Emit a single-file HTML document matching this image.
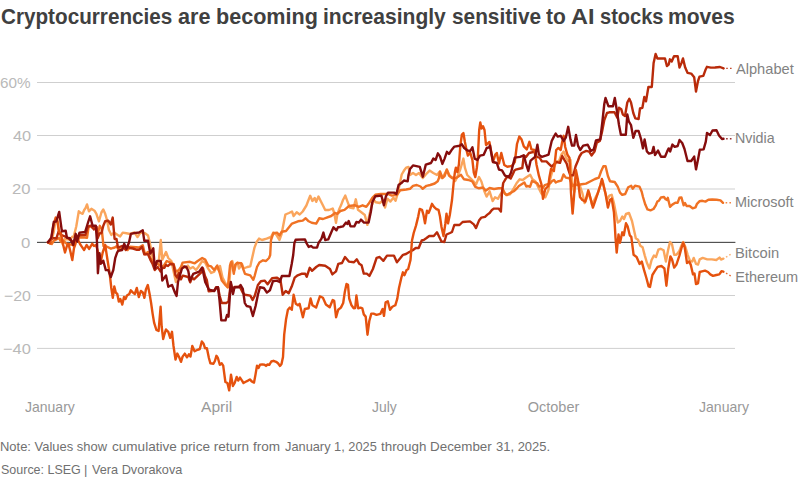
<!DOCTYPE html>
<html><head><meta charset="utf-8"><style>
html,body{margin:0;padding:0;background:#fff;}
body{width:798px;height:479px;position:relative;overflow:hidden;font-family:"Liberation Sans",sans-serif;}
.t{position:absolute;white-space:nowrap;line-height:1;transform-origin:0 0;}
svg{position:absolute;left:0;top:0;}
</style></head><body>
<svg width="798" height="479" viewBox="0 0 798 479">
<line x1="37" x2="735" y1="82.5" y2="82.5" stroke="#cfcfcf" stroke-width="1"/>
<line x1="37" x2="735" y1="135.5" y2="135.5" stroke="#cfcfcf" stroke-width="1"/>
<line x1="37" x2="735" y1="189.0" y2="189.0" stroke="#cfcfcf" stroke-width="1"/>
<line x1="37" x2="735" y1="295.5" y2="295.5" stroke="#cfcfcf" stroke-width="1"/>
<line x1="37" x2="735" y1="348.4" y2="348.4" stroke="#cfcfcf" stroke-width="1"/>
<line x1="37" x2="735.4" y1="242.35" y2="242.35" stroke="#333" stroke-width="1"/>
<path d="M48.0,242.2 L50.0,241.0 L52.0,239.0 L53.7,232.0 L55.5,220.5 L57.3,218.5 L59.0,231.0 L61.0,237.0 L62.8,244.5 L64.7,239.0 L66.5,239.3 L68.4,239.3 L70.2,240.0 L72.0,237.0 L73.8,236.4 L76.3,226.3 L78.8,211.3 L80.7,213.0 L82.6,213.8 L84.2,210.0 L85.6,208.0 L87.0,204.4 L88.9,211.3 L91.4,208.8 L94.5,210.7 L96.4,213.8 L98.9,221.3 L101.4,212.5 L103.3,209.4 L105.2,213.8 L107.0,220.0 L108.9,230.0 L111.4,235.0 L114.0,232.5 L117.7,235.0 L120.2,236.4 L122.7,232.6 L126.5,233.3 L130.0,234.0 L134.5,232.5 L137.5,237.0 L140.5,232.5 L145.0,233.3 L148.0,235.5 L149.5,241.5 L151.0,249.0 L153.3,261.0 L155.6,264.8 L158.6,263.3 L160.8,240.0 L162.3,259.6 L166.0,252.0 L168.3,258.0 L171.4,261.0 L173.6,271.6 L175.9,282.0 L178.0,273.0 L180.4,268.6 L182.6,265.6 L185.6,267.8 L187.9,265.6 L190.0,268.6 L193.0,267.0 L196.0,270.0 L198.3,267.0 L202.2,261.0 L205.2,262.6 L208.2,268.6 L211.2,273.0 L214.2,271.6 L216.5,267.0 L218.0,269.3 L220.0,266.0 L222.5,277.6 L224.8,282.0 L227.8,287.3 L229.3,283.6 L230.8,262.5 L232.3,261.0 L234.5,270.0 L236.0,264.0 L237.5,262.5 L239.0,268.5 L242.0,264.0 L243.6,268.5 L247.3,267.0 L250.3,266.3 L251.8,259.5 L254.5,247.6 L256.8,241.6 L259.0,238.6 L262.0,240.0 L266.6,238.6 L271.0,237.0 L273.3,232.6 L276.4,234.8 L279.4,240.0 L281.6,234.0 L283.9,222.0 L285.4,214.5 L289.0,213.0 L292.0,211.5 L293.6,216.0 L296.7,212.3 L299.7,214.5 L302.7,211.5 L306.4,205.5 L308.7,199.5 L310.2,195.8 L312.4,201.0 L314.7,198.0 L316.2,201.8 L318.5,196.5 L320.7,201.0 L323.0,205.5 L325.2,210.0 L329.0,210.0 L332.7,208.5 L334.2,213.0 L336.0,222.8 L337.3,214.5 L339.5,208.5 L341.0,205.3 L343.0,200.0 L345.3,195.6 L347.5,201.6 L349.8,207.6 L353.5,208.3 L355.8,199.3 L358.0,209.8 L361.0,212.0 L364.8,215.0 L367.4,224.9 L369.3,215.0 L371.6,206.0 L373.8,200.0 L376.0,202.3 L379.8,203.0 L383.6,200.0 L385.0,207.6 L387.4,198.6 L390.4,201.6 L393.4,197.8 L395.6,200.8 L397.9,192.6 L400.2,182.0 L401.7,174.5 L404.0,170.6 L406.3,167.6 L408.5,166.9 L410.0,175.0 L413.0,173.0 L416.0,175.0 L419.0,173.0 L422.8,178.0 L425.8,174.4 L429.6,170.6 L433.3,173.0 L437.0,175.0 L439.4,172.0 L441.6,178.0 L443.9,175.0 L446.9,170.0 L449.9,176.0 L452.9,178.0 L455.2,181.0 L457.4,176.7 L460.4,169.0 L463.4,158.6 L464.9,167.6 L467.2,175.0 L470.2,178.0 L473.2,181.0 L476.0,184.5 L479.0,177.0 L481.4,181.5 L484.4,191.3 L486.6,196.6 L489.6,191.3 L492.6,201.0 L495.0,197.3 L497.9,198.8 L500.0,195.0 L503.2,190.6 L506.2,195.0 L510.0,194.3 L513.7,188.3 L516.7,183.0 L519.7,179.3 L522.7,180.0 L525.7,177.8 L530.2,174.8 L532.5,179.3 L535.5,181.5 L538.5,187.6 L541.5,193.6 L545.3,197.3 L548.3,190.6 L550.0,180.0 L552.4,171.0 L556.2,162.0 L559.2,160.6 L561.4,154.6 L563.7,151.6 L566.0,157.6 L568.2,161.0 L570.5,160.0 L572.5,186.0 L574.3,192.0 L576.3,180.5 L577.8,181.0 L580.0,186.0 L582.3,193.0 L584.6,203.0 L586.8,198.0 L589.0,192.6 L592.0,204.6 L595.0,198.6 L598.0,192.6 L601.0,183.6 L602.6,180.6 L604.9,191.0 L607.0,200.0 L609.4,195.6 L611.7,194.8 L613.9,203.0 L616.2,215.0 L617.8,222.5 L620.0,221.0 L622.3,216.5 L624.0,219.0 L626.0,214.0 L629.0,213.0 L632.0,221.0 L634.3,231.5 L635.8,238.3 L638.0,239.8 L640.3,245.8 L642.6,247.3 L644.8,255.6 L647.0,263.0 L649.4,268.4 L651.6,260.0 L653.9,255.6 L656.0,257.0 L658.4,249.6 L660.6,248.8 L663.6,250.3 L665.9,261.6 L668.2,249.6 L670.0,242.0 L672.0,244.3 L674.2,254.8 L676.4,254.8 L679.4,251.0 L681.7,245.0 L683.2,242.0 L685.5,247.3 L687.7,254.8 L690.0,260.9 L692.2,261.6 L693.7,257.9 L696.0,263.9 L698.0,264.6 L699.7,259.4 L702.7,257.9 L707.3,259.4 L711.8,259.4 L716.3,260.0 L719.5,257.6 L721.0,259.5 L723.4,258.7" fill="none" stroke="#FAA55C" stroke-width="2.4" stroke-linejoin="round" stroke-linecap="round"/>
<path d="M48.0,242.2 L51.7,244.0 L53.6,241.0 L59.0,238.0 L61.0,242.0 L62.8,240.5 L66.5,243.7 L72.0,244.8 L74.0,246.0 L75.8,239.0 L77.7,240.7 L79.5,237.3 L85.0,237.5 L87.0,237.8 L88.7,226.3 L90.6,226.0 L92.4,227.6 L96.0,229.0 L97.8,233.7 L99.8,225.8 L101.7,229.0 L103.5,246.0 L105.4,246.0 L111.0,248.7 L112.8,248.0 L114.7,247.5 L116.5,246.2 L118.4,249.5 L124.0,248.0 L125.8,248.5 L127.6,250.0 L130.0,246.8 L139.0,247.5 L142.8,245.3 L145.0,254.3 L148.0,252.0 L150.3,258.0 L152.5,261.0 L154.8,265.6 L157.0,263.4 L161.6,267.0 L164.0,265.5 L166.8,261.0 L170.6,262.6 L173.6,264.0 L175.9,271.6 L178.9,270.0 L181.0,267.0 L182.6,262.6 L190.0,261.8 L194.7,263.3 L197.7,261.0 L202.2,258.0 L205.2,259.6 L208.2,265.6 L211.2,266.4 L214.2,270.0 L217.3,265.5 L219.5,272.3 L221.8,280.6 L224.8,284.3 L227.8,287.3 L230.0,265.5 L231.5,261.8 L233.8,273.8 L235.3,264.8 L237.0,263.0 L241.3,263.3 L243.6,270.0 L245.0,273.8 L250.3,275.3 L253.3,279.8 L254.8,275.3 L257.0,267.0 L259.4,262.5 L263.0,260.3 L266.0,261.0 L269.0,258.0 L270.2,255.0 L271.0,240.0 L273.3,233.3 L277.0,232.6 L279.4,235.6 L281.6,231.8 L286.0,231.0 L289.0,227.3 L292.0,223.6 L298.0,221.3 L302.7,220.6 L305.7,218.3 L308.7,221.3 L311.7,222.8 L316.2,223.6 L319.2,218.3 L323.0,219.0 L326.7,217.6 L331.2,216.0 L335.0,213.0 L337.3,213.8 L340.3,211.0 L344.5,209.8 L349.0,206.0 L355.0,205.3 L358.8,206.8 L362.6,205.3 L366.3,206.8 L368.6,203.8 L372.3,197.8 L375.3,194.8 L380.6,194.0 L388.0,194.0 L391.9,195.6 L397.0,194.8 L400.2,190.3 L406.2,189.5 L410.0,188.8 L413.0,185.8 L416.7,185.0 L420.5,186.5 L422.7,188.8 L426.5,185.8 L430.2,185.0 L434.7,183.5 L437.7,181.3 L439.0,178.0 L440.0,171.4 L442.4,178.0 L444.6,176.0 L446.8,169.5 L449.0,175.5 L452.0,178.0 L456.5,177.8 L461.0,174.8 L464.0,179.3 L468.6,180.0 L472.3,181.5 L475.3,186.8 L479.0,188.3 L482.9,187.5 L485.9,190.6 L489.6,188.0 L494.0,189.0 L498.6,188.3 L502.4,188.3 L504.7,193.6 L507.0,195.0 L509.2,193.6 L513.7,191.3 L516.7,188.5 L518.9,186.0 L524.4,182.5 L526.3,186.5 L528.0,186.0 L530.0,186.8 L532.0,181.0 L537.3,183.3 L539.2,186.5 L541.0,186.0 L542.9,187.9 L544.7,185.2 L550.3,183.3 L552.1,181.0 L554.0,180.0 L555.8,182.5 L557.7,181.5 L561.3,180.6 L563.5,174.5 L565.8,177.6 L569.5,178.3 L572.6,186.0 L574.8,184.3 L577.8,185.0 L581.6,184.3 L586.0,183.6 L590.6,181.3 L595.0,179.0 L598.9,177.6 L601.0,171.5 L603.4,166.3 L605.6,166.3 L607.9,176.0 L610.0,181.3 L614.7,182.0 L617.7,186.6 L620.0,192.6 L622.2,194.8 L625.2,194.0 L628.2,187.3 L631.2,185.8 L632.7,188.8 L635.0,185.8 L639.5,186.6 L641.7,191.8 L643.0,197.0 L645.3,204.6 L647.5,209.4 L650.5,210.3 L653.5,209.0 L655.8,205.3 L657.3,201.6 L658.8,200.8 L661.0,197.4 L664.0,197.0 L665.6,199.3 L667.0,200.0 L667.8,197.8 L670.0,206.8 L672.3,204.6 L675.3,202.8 L677.6,202.8 L679.4,197.8 L681.4,197.4 L683.6,205.3 L685.0,203.0 L686.6,206.0 L689.6,206.0 L692.6,208.3 L695.6,207.3 L697.0,203.8 L699.4,201.3 L702.4,200.8 L705.4,201.6 L708.4,199.8 L712.2,199.5 L716.7,199.8 L720.5,200.4 L723.0,202.8" fill="none" stroke="#F07224" stroke-width="2.4" stroke-linejoin="round" stroke-linecap="round"/>
<path d="M48.0,242.2 L52.8,238.2 L56.5,238.2 L58.4,232.0 L61.5,235.0 L64.7,236.3 L69.0,238.8 L72.0,241.0 L74.0,242.0 L76.6,236.3 L80.3,235.0 L85.4,235.0 L87.9,226.9 L91.0,225.7 L94.0,229.4 L96.6,226.9 L97.5,238.5 L99.5,233.5 L101.5,233.0 L103.3,225.7 L105.2,221.3 L108.3,220.7 L110.8,224.5 L112.7,217.6 L114.6,239.0 L116.5,239.0 L118.0,247.6 L122.0,246.0 L124.0,247.6 L125.8,250.0 L127.7,246.5 L129.5,248.0 L133.0,248.5 L136.9,249.8 L139.0,249.8 L142.0,246.8 L144.3,254.3 L148.0,254.3 L150.3,259.6 L152.6,264.0 L154.8,270.0 L157.8,267.0 L160.5,271.5 L162.5,268.0 L164.3,267.9 L166.0,265.0 L168.0,266.0 L170.0,264.0 L173.5,264.5 L175.4,275.0 L177.2,277.5 L179.0,273.0 L181.0,279.3 L182.8,275.6 L188.3,277.0 L190.2,282.3 L192.0,277.7 L194.0,279.3 L195.8,277.7 L201.3,272.4 L203.0,268.4 L205.0,276.0 L206.8,280.0 L208.7,291.3 L214.2,290.8 L216.0,287.3 L218.0,287.3 L219.7,296.0 L221.8,303.0 L226.3,303.0 L228.5,301.6 L230.8,283.6 L232.7,291.0 L234.5,287.0 L239.8,286.6 L242.8,292.6 L245.0,294.8 L250.3,295.6 L252.6,300.0 L254.8,295.6 L257.9,285.0 L260.9,281.3 L264.6,280.6 L267.6,284.3 L272.1,278.3 L276.7,277.6 L280.4,279.8 L282.7,294.8 L285.7,291.0 L288.7,293.3 L291.7,286.6 L294.7,277.6 L297.7,275.3 L301.5,273.8 L305.2,273.8 L306.7,276.8 L309.7,267.8 L312.0,270.8 L316.2,267.0 L319.2,265.0 L325.2,265.7 L330.0,269.0 L332.3,274.4 L336.0,271.4 L338.3,263.8 L342.0,263.0 L345.0,257.0 L348.8,261.6 L354.0,262.3 L356.8,259.3 L359.3,263.8 L361.6,265.3 L363.8,273.6 L366.8,273.6 L369.4,275.9 L372.9,269.0 L376.6,257.8 L379.6,257.0 L383.4,260.8 L387.0,255.6 L393.9,255.6 L396.9,262.3 L400.0,258.6 L403.0,254.8 L406.0,254.0 L409.7,251.8 L412.7,250.3 L415.7,248.0 L418.7,248.0 L421.7,240.5 L424.0,239.8 L426.2,238.3 L429.2,236.0 L433.8,236.0 L437.0,232.3 L441.3,241.3 L444.3,242.0 L446.5,234.5 L450.0,233.0 L452.0,232.0 L454.3,225.0 L459.5,225.0 L462.6,222.0 L470.0,221.4 L473.8,224.4 L476.0,228.0 L479.0,220.6 L481.4,217.6 L485.0,216.9 L487.4,214.6 L489.6,213.0 L491.9,210.0 L494.0,208.6 L498.6,208.6 L500.9,211.6 L502.0,192.0 L503.2,183.0 L505.4,179.3 L507.7,176.3 L510.7,178.5 L512.9,174.0 L514.4,170.5 L515.6,169.7 L522.3,168.0 L523.8,155.4 L526.0,156.9 L529.0,153.0 L535.0,151.6 L536.6,156.9 L539.6,157.6 L541.9,161.4 L546.4,161.4 L548.6,163.6 L551.7,166.7 L556.2,162.0 L560.0,162.9 L562.2,156.0 L564.4,159.9 L566.7,163.6 L568.0,168.5 L570.3,175.3 L573.3,175.3 L575.6,166.3 L577.8,161.0 L579.5,156.5 L581.7,153.0 L586.2,150.9 L589.2,151.6 L591.5,155.4 L594.5,151.6 L596.8,142.6 L599.8,141.0 L602.0,132.0 L604.3,120.0 L607.0,113.0 L609.3,112.3 L614.5,112.3 L617.3,117.6 L619.0,107.8 L621.3,109.3 L622.8,114.5 L625.0,116.0 L627.3,102.5 L629.3,98.8 L631.0,102.5 L633.3,113.0 L635.3,118.3 L638.6,119.0 L640.0,108.5 L642.4,107.8 L644.3,96.9 L646.0,101.4 L648.4,87.0 L651.8,87.0 L653.6,63.0 L655.6,54.0 L657.4,58.5 L665.0,58.5 L666.9,66.0 L668.7,64.5 L669.9,59.3 L671.7,61.5 L674.0,56.3 L677.7,56.3 L679.5,67.6 L681.5,63.0 L683.0,58.5 L685.2,67.6 L687.5,72.8 L691.2,73.6 L694.2,77.3 L696.0,91.6 L698.0,81.0 L699.5,76.6 L703.3,75.8 L705.5,69.8 L707.0,66.8 L710.8,67.6 L715.0,67.5 L720.0,67.0 L723.6,68.4" fill="none" stroke="#B92B0A" stroke-width="2.4" stroke-linejoin="round" stroke-linecap="round"/>
<path d="M48.0,242.2 L50.0,243.5 L51.5,238.0 L53.5,225.0 L55.7,217.6 L57.5,222.0 L59.0,232.0 L60.7,232.6 L63.2,245.0 L65.0,252.5 L66.9,246.0 L68.5,244.0 L70.5,252.0 L72.3,260.0 L74.0,248.0 L75.5,243.8 L77.0,238.0 L78.5,241.0 L80.0,244.0 L81.6,246.4 L84.1,250.0 L86.6,245.0 L89.1,248.9 L92.2,243.8 L94.0,246.0 L96.0,245.0 L97.5,250.0 L99.0,256.0 L100.5,263.0 L102.7,252.5 L105.2,245.0 L107.7,261.3 L109.8,274.5 L111.3,288.0 L112.8,297.8 L114.3,286.5 L115.8,292.6 L117.3,294.0 L118.8,301.6 L120.3,299.0 L122.3,304.6 L124.0,297.0 L125.5,299.0 L127.0,295.6 L129.3,294.0 L130.8,290.3 L133.0,292.6 L134.8,294.0 L136.8,288.0 L138.8,297.0 L140.9,291.0 L142.8,292.5 L144.4,297.8 L145.9,289.5 L147.8,285.0 L149.6,294.0 L151.1,303.0 L152.6,313.6 L154.1,322.6 L156.4,330.0 L158.6,331.0 L160.6,306.8 L161.7,327.0 L163.2,339.0 L164.5,334.0 L166.0,329.5 L168.3,331.8 L170.2,337.8 L172.0,331.8 L173.5,346.0 L175.5,359.6 L177.3,353.6 L179.2,357.3 L181.0,361.8 L182.6,356.6 L184.8,353.6 L187.0,357.3 L188.9,354.3 L190.5,356.6 L192.3,346.0 L194.6,351.3 L197.6,349.8 L199.8,349.0 L201.8,341.5 L203.6,343.8 L205.1,348.3 L206.9,348.3 L208.9,358.0 L210.4,363.3 L213.4,363.8 L214.9,361.0 L216.4,355.8 L217.9,358.0 L219.8,364.8 L221.7,363.3 L223.2,365.6 L225.4,382.0 L227.4,383.0 L229.2,390.4 L231.0,374.6 L232.9,386.0 L234.7,383.0 L236.7,376.9 L238.2,380.6 L240.0,377.6 L242.0,380.6 L243.5,383.0 L245.7,381.8 L248.0,380.6 L249.9,379.4 L251.7,381.4 L254.0,382.6 L255.5,374.6 L257.0,365.6 L258.5,367.9 L260.0,364.8 L262.3,364.4 L264.5,364.8 L266.0,365.9 L267.5,364.5 L269.3,364.8 L271.3,361.5 L273.5,360.8 L276.1,361.8 L278.0,363.3 L280.0,365.9 L281.5,364.0 L283.0,357.0 L284.2,334.6 L286.0,319.6 L287.9,309.8 L289.8,307.6 L291.8,309.8 L293.6,294.8 L295.8,303.8 L298.0,305.3 L299.6,303.8 L302.9,317.3 L304.8,309.0 L308.6,308.3 L310.6,298.5 L312.4,305.3 L316.1,307.6 L319.9,296.3 L322.9,297.8 L325.9,304.5 L329.7,307.3 L332.7,300.0 L334.2,300.8 L336.1,317.3 L338.2,309.8 L340.9,307.6 L343.2,303.0 L344.8,292.0 L346.5,284.0 L348.0,284.9 L349.2,298.5 L351.5,305.3 L353.7,308.3 L355.2,308.0 L356.4,295.5 L358.2,308.3 L360.5,307.6 L362.3,308.3 L363.8,314.4 L365.7,316.6 L367.5,334.7 L369.3,321.0 L371.3,313.6 L373.5,313.6 L376.5,314.8 L380.3,313.9 L382.6,309.0 L384.0,315.9 L385.6,302.3 L387.8,301.3 L390.0,309.8 L392.3,306.8 L395.3,305.3 L397.3,298.6 L399.0,288.0 L401.4,277.5 L402.9,272.3 L404.4,275.3 L406.6,270.0 L408.2,269.0 L410.5,260.0 L412.0,240.5 L413.7,233.0 L416.0,225.6 L418.2,216.6 L419.7,209.0 L422.0,209.8 L423.5,215.0 L425.0,223.4 L427.0,210.6 L428.7,212.9 L430.2,209.0 L432.0,203.8 L434.0,206.8 L436.2,209.0 L438.5,209.8 L440.0,216.6 L441.5,227.0 L443.5,236.0 L445.3,224.0 L446.5,213.6 L448.0,223.4 L449.8,215.0 L452.0,200.0 L454.0,179.0 L455.0,171.5 L455.9,167.6 L457.4,172.0 L458.9,164.6 L460.4,145.0 L461.9,134.5 L463.4,133.0 L464.9,142.0 L466.4,149.6 L467.9,155.6 L470.2,152.6 L472.4,160.0 L473.8,172.5 L475.3,177.0 L476.8,168.0 L477.7,160.0 L479.2,130.0 L480.3,122.5 L481.5,128.5 L483.0,126.3 L484.5,130.0 L486.0,145.0 L487.5,143.6 L489.4,142.0 L491.5,153.0 L493.0,162.0 L495.3,154.6 L496.8,153.0 L499.0,163.6 L501.3,153.0 L504.3,165.0 L507.3,166.7 L511.8,166.0 L514.8,162.0 L517.0,144.0 L519.3,136.6 L521.6,139.6 L523.8,146.4 L526.8,149.4 L529.4,141.8 L531.4,149.4 L534.4,150.0 L536.6,165.0 L538.9,175.7 L541.5,184.5 L543.0,198.8 L545.3,189.0 L548.3,186.0 L549.5,177.0 L551.0,169.0 L553.9,171.0 L556.2,150.0 L558.4,147.9 L560.7,150.0 L562.2,141.8 L563.7,135.8 L565.2,147.0 L567.4,154.6 L569.5,158.0 L571.0,192.6 L572.6,213.6 L574.0,197.0 L575.9,170.0 L577.8,179.0 L580.0,197.0 L582.3,200.0 L585.3,201.6 L588.3,190.3 L590.6,198.6 L592.9,207.6 L595.0,201.6 L598.0,192.6 L600.4,185.0 L601.9,179.0 L603.4,185.0 L605.6,194.0 L607.9,207.6 L610.0,200.0 L611.7,198.6 L613.9,212.0 L614.6,222.0 L615.5,237.6 L616.7,252.6 L618.5,234.5 L620.0,242.8 L622.3,232.3 L623.8,235.3 L626.0,223.3 L627.6,226.3 L629.8,235.3 L631.3,236.8 L633.6,254.8 L636.6,257.0 L639.6,263.9 L641.8,261.6 L644.0,269.9 L646.4,278.0 L648.6,286.4 L650.0,287.0 L652.4,275.0 L654.6,271.4 L657.6,266.9 L661.4,266.0 L664.4,268.4 L666.4,285.7 L668.2,269.0 L670.4,256.4 L672.0,259.4 L674.2,267.6 L676.4,264.6 L679.4,255.6 L681.7,247.3 L683.2,242.8 L684.7,247.3 L687.0,263.0 L689.2,261.6 L690.7,264.6 L693.0,274.4 L694.5,273.6 L696.0,284.0 L698.0,283.4 L699.7,272.0 L702.0,271.4 L705.0,270.6 L708.0,272.0 L710.3,274.4 L713.0,275.9 L716.3,275.0 L719.3,274.4 L721.5,271.2 L723.4,271.7" fill="none" stroke="#E5520E" stroke-width="2.4" stroke-linejoin="round" stroke-linecap="round"/>
<path d="M48.0,242.2 L51.3,237.6 L53.8,222.0 L56.3,221.3 L59.2,211.9 L61.9,231.3 L65.7,230.7 L66.9,237.6 L70.0,238.2 L73.2,245.0 L75.7,233.8 L77.0,241.4 L79.5,232.6 L85.1,232.0 L88.2,222.0 L90.1,216.3 L92.6,225.7 L95.8,225.7 L97.0,242.0 L97.9,273.2 L99.5,253.2 L100.8,263.8 L103.3,260.7 L105.8,270.1 L108.3,270.1 L110.8,277.0 L113.3,270.0 L115.2,258.2 L117.1,252.6 L118.3,250.7 L122.1,250.0 L124.2,243.8 L126.5,248.8 L129.0,242.5 L130.9,233.8 L134.0,233.1 L139.0,232.5 L142.8,230.3 L144.3,240.8 L148.0,240.8 L150.3,253.6 L153.3,248.3 L154.8,268.6 L157.0,261.0 L160.8,261.0 L162.3,280.6 L166.0,275.4 L168.3,286.7 L172.0,285.0 L175.0,292.7 L176.6,296.0 L178.0,282.0 L181.9,268.6 L184.6,266.5 L186.4,267.0 L188.3,271.0 L190.0,280.6 L193.2,273.9 L199.2,271.6 L202.2,267.5 L205.2,282.0 L209.0,289.7 L214.2,291.0 L216.5,287.5 L218.0,287.3 L219.5,300.0 L221.3,320.4 L225.5,320.4 L227.0,315.0 L228.5,316.7 L230.8,282.0 L233.0,294.0 L234.5,287.3 L239.0,287.3 L240.6,285.0 L242.8,288.8 L244.8,303.0 L246.6,306.0 L250.3,306.9 L252.9,316.0 L255.6,306.0 L257.9,294.8 L260.0,287.3 L263.9,288.0 L266.9,292.6 L269.9,290.3 L272.9,281.3 L276.7,280.6 L279.7,282.0 L281.9,276.0 L289.4,276.0 L291.7,264.0 L293.2,255.0 L294.4,243.0 L295.6,239.8 L305.0,239.4 L306.4,243.0 L308.7,246.9 L311.0,246.0 L313.2,247.6 L317.0,247.6 L318.5,243.0 L321.5,238.6 L323.4,232.6 L325.2,240.0 L328.2,239.4 L331.2,232.6 L333.5,227.3 L336.5,230.3 L338.0,227.3 L340.0,227.0 L343.0,226.4 L346.0,222.6 L347.5,224.0 L348.7,221.0 L350.5,226.4 L354.3,226.4 L356.5,221.9 L358.8,222.6 L361.0,219.6 L364.0,222.6 L368.6,222.6 L370.8,212.0 L372.3,202.3 L375.3,196.3 L381.4,195.6 L383.9,205.3 L385.9,196.3 L388.0,192.6 L394.0,192.6 L396.4,194.0 L398.6,185.0 L401.7,182.8 L403.9,180.5 L407.7,181.3 L408.5,175.0 L410.0,169.0 L413.0,165.4 L419.8,166.9 L422.8,176.7 L425.8,164.6 L431.0,163.0 L433.3,158.6 L435.6,160.0 L437.9,153.3 L440.0,156.4 L442.4,163.9 L444.6,158.6 L446.9,151.8 L449.0,154.0 L451.4,150.3 L454.4,146.6 L459.7,145.8 L461.9,144.3 L464.2,148.0 L467.2,150.3 L470.2,151.0 L472.4,147.3 L474.7,158.6 L477.4,160.0 L480.0,155.6 L483.7,154.8 L486.7,148.0 L489.0,147.3 L490.0,145.6 L491.5,154.6 L493.0,162.0 L496.8,163.0 L499.0,169.7 L502.0,170.4 L505.0,175.7 L508.8,177.0 L511.0,172.7 L513.3,163.6 L514.8,157.6 L520.0,156.9 L523.8,155.4 L526.0,163.6 L528.3,171.0 L530.6,160.6 L535.0,156.9 L537.4,144.8 L538.9,154.6 L541.9,156.9 L546.4,155.4 L548.6,154.6 L551.7,141.0 L553.9,136.6 L555.7,133.6 L557.7,136.6 L560.7,135.8 L563.7,141.0 L565.9,137.3 L568.2,126.8 L570.5,139.6 L572.0,145.6 L574.2,145.6 L576.0,135.0 L578.0,145.6 L580.2,150.0 L583.2,145.6 L587.7,144.8 L590.8,150.9 L593.8,149.4 L596.0,140.3 L600.3,139.4 L602.5,120.6 L604.3,104.0 L605.5,98.0 L608.5,106.3 L613.0,106.3 L614.8,98.0 L616.8,110.0 L619.0,125.0 L620.9,134.8 L625.8,134.8 L627.3,114.5 L628.8,121.3 L631.0,125.0 L633.3,137.9 L635.6,131.0 L638.6,131.0 L640.9,138.6 L643.0,148.4 L644.6,139.4 L646.9,151.4 L649.0,153.6 L652.0,152.9 L653.6,146.9 L655.0,155.0 L658.0,150.6 L661.0,156.7 L665.0,156.7 L667.2,151.4 L668.7,148.4 L670.2,151.4 L672.4,144.6 L674.7,146.9 L677.7,146.0 L679.5,140.0 L682.2,143.0 L684.5,149.0 L687.5,161.0 L691.2,161.0 L694.2,156.6 L696.0,169.4 L698.3,158.0 L699.8,149.8 L703.6,149.4 L705.8,141.6 L707.0,133.0 L710.0,135.0 L712.5,130.5 L716.5,130.3 L719.0,135.5 L722.0,139.0 L723.5,138.8" fill="none" stroke="#860D0D" stroke-width="2.4" stroke-linejoin="round" stroke-linecap="round"/>
<line x1="726.2" y1="68.4" x2="732.4" y2="68.4" stroke="#B92B0A" stroke-width="1.4" stroke-dasharray="1.6,2.2" opacity="0.85"/>
<line x1="726.1" y1="138.8" x2="732.4" y2="138.8" stroke="#860D0D" stroke-width="1.4" stroke-dasharray="1.6,2.2" opacity="0.85"/>
<line x1="725.6" y1="202.8" x2="732.4" y2="202.8" stroke="#F07224" stroke-width="1.4" stroke-dasharray="1.6,2.2" opacity="0.85"/>
<line x1="726.0" y1="257.1" x2="732.4" y2="253.3" stroke="#FAA55C" stroke-width="1.4" stroke-dasharray="1.6,2.2" opacity="0.85"/>
<line x1="726.0" y1="273.2" x2="732.4" y2="276.7" stroke="#E5520E" stroke-width="1.4" stroke-dasharray="1.6,2.2" opacity="0.85"/>
</svg>
<div class="t" id="t1" style="left:0.63px;top:7.20px;font-size:21.5px;color:#404040;font-weight:bold;transform:scaleX(0.9620);">Cryptocurrencies</div>
<div class="t" id="t2" style="left:178.35px;top:7.20px;font-size:21.5px;color:#404040;font-weight:bold;transform:scaleX(1.0048);">are</div>
<div class="t" id="t3" style="left:215.70px;top:7.20px;font-size:21.5px;color:#404040;font-weight:bold;transform:scaleX(1.0035);">becoming</div>
<div class="t" id="t4" style="left:322.53px;top:7.20px;font-size:21.5px;color:#404040;font-weight:bold;transform:scaleX(0.9786);">increasingly</div>
<div class="t" id="t5" style="left:451.97px;top:7.20px;font-size:21.5px;color:#404040;font-weight:bold;transform:scaleX(0.9675);">sensitive</div>
<div class="t" id="t6" style="left:546.45px;top:7.20px;font-size:21.5px;color:#404040;font-weight:bold;transform:scaleX(0.9766);">to</div>
<div class="t" id="t7" style="left:571.10px;top:7.20px;font-size:21.5px;color:#404040;font-weight:bold;transform:scaleX(1.0923);">AI</div>
<div class="t" id="t8" style="left:599.96px;top:7.20px;font-size:21.5px;color:#404040;font-weight:bold;transform:scaleX(0.9308);">stocks</div>
<div class="t" id="t9" style="left:668.38px;top:7.20px;font-size:21.5px;color:#404040;font-weight:bold;transform:scaleX(0.9795);">moves</div>
<div class="t" id="y60" style="left:-0.06px;top:74.70px;font-size:15px;color:#b9b9b9;font-weight:normal;transform:scaleX(1.0172);">60%</div>
<div class="t" id="y40" style="left:12.52px;top:128.10px;font-size:15px;color:#b9b9b9;font-weight:normal;transform:scaleX(1.0921);">40</div>
<div class="t" id="y20" style="left:12.31px;top:181.40px;font-size:15px;color:#b9b9b9;font-weight:normal;transform:scaleX(1.1082);">20</div>
<div class="t" id="y0" style="left:21.00px;top:234.80px;font-size:15px;color:#b9b9b9;font-weight:normal;transform:scaleX(1.1200);">0</div>
<div class="t" id="ym20" style="left:3.76px;top:288.10px;font-size:15px;color:#b9b9b9;font-weight:normal;transform:scaleX(1.0598);">−20</div>
<div class="t" id="ym40" style="left:2.68px;top:341.40px;font-size:15px;color:#b9b9b9;font-weight:normal;transform:scaleX(1.0969);">−40</div>
<div class="t" id="x1" style="left:24.76px;top:399.83px;font-size:14.5px;color:#999;font-weight:normal;transform:scaleX(0.9659);">January</div>
<div class="t" id="x2" style="left:201.00px;top:399.83px;font-size:14.5px;color:#999;font-weight:normal;transform:scaleX(1.0750);">April</div>
<div class="t" id="x3" style="left:371.80px;top:399.83px;font-size:14.5px;color:#999;font-weight:normal;transform:scaleX(0.9592);">July</div>
<div class="t" id="x4" style="left:527.75px;top:399.83px;font-size:14.5px;color:#999;font-weight:normal;">October</div>
<div class="t" id="x5" style="left:698.76px;top:399.83px;font-size:14.5px;color:#999;font-weight:normal;transform:scaleX(0.9698);">January</div>
<div class="t" id="l1" style="left:735.50px;top:61.83px;font-size:14.5px;color:#828282;font-weight:normal;transform:scaleX(1.0079);">Alphabet</div>
<div class="t" id="l2" style="left:735.02px;top:131.23px;font-size:14.5px;color:#828282;font-weight:normal;transform:scaleX(0.9848);">Nvidia</div>
<div class="t" id="l3" style="left:735.00px;top:195.23px;font-size:14.5px;color:#828282;font-weight:normal;transform:scaleX(0.9957);">Microsoft</div>
<div class="t" id="l4" style="left:735.28px;top:245.93px;font-size:14.5px;color:#828282;font-weight:normal;transform:scaleX(1.0145);">Bitcoin</div>
<div class="t" id="l5" style="left:735.30px;top:270.03px;font-size:14.5px;color:#828282;font-weight:normal;">Ethereum</div>
<div class="t" id="n1" style="left:0.34px;top:439.77px;font-size:13.5px;color:#707070;font-weight:normal;transform:scaleX(0.9593);">Note: Values show</div>
<div class="t" id="n2" style="left:112.00px;top:439.77px;font-size:13.5px;color:#707070;font-weight:normal;transform:scaleX(1.0042);">cumulative price return from</div>
<div class="t" id="n3" style="left:285.26px;top:439.77px;font-size:13.5px;color:#707070;font-weight:normal;transform:scaleX(0.9479);">January 1, 2025</div>
<div class="t" id="n4" style="left:381.25px;top:439.77px;font-size:13.5px;color:#707070;font-weight:normal;transform:scaleX(0.9901);">through December</div>
<div class="t" id="n5" style="left:496.22px;top:439.77px;font-size:13.5px;color:#707070;font-weight:normal;transform:scaleX(0.9607);">31, 2025.</div>
<div class="t" id="s1" style="left:0.84px;top:463.17px;font-size:13.5px;color:#707070;font-weight:normal;transform:scaleX(0.9251);">Source: LSEG</div>
<div class="t" id="s2" style="left:84.19px;top:463.17px;font-size:13.5px;color:#707070;font-weight:normal;transform:scaleX(0.9600);">|</div>
<div class="t" id="s3" style="left:91.96px;top:463.17px;font-size:13.5px;color:#707070;font-weight:normal;transform:scaleX(0.9406);">Vera Dvorakova</div>
</body></html>
